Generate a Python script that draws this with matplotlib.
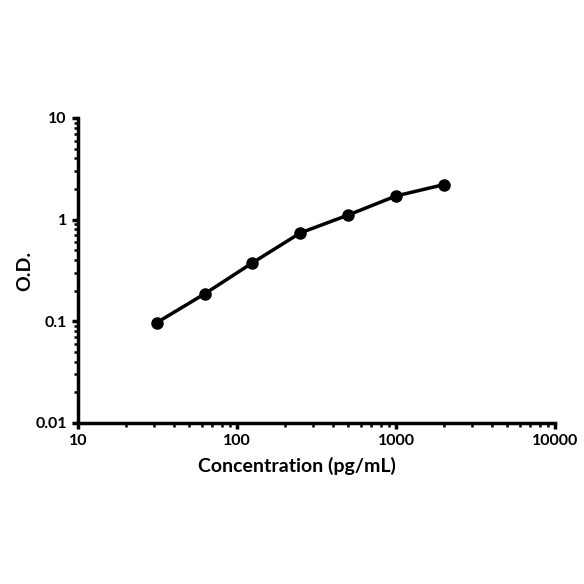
import numpy as np
import matplotlib
matplotlib.use('Agg')
import matplotlib.pyplot as plt
from matplotlib.ticker import LogLocator, FixedLocator, FixedFormatter, NullFormatter

# standard curve values
conc = [31.25, 62.5, 125, 250, 500, 1000, 2000]
od = [0.097, 0.186, 0.376, 0.74, 1.11, 1.71, 2.21]

x_ticks = [10, 100, 1000, 10000]
x_labels = ['10', '100', '1000', '10000']
y_ticks = [0.01, 0.1, 1, 10]
y_labels = ['0.01', '0.1', '1', '10']

plt.rcParams['font.family'] = ['Lato', 'DejaVu Sans']

fig = plt.figure(figsize=(5.84, 5.84), dpi=100)
ax = fig.add_axes([0.1336, 0.2757, 0.8167, 0.5223])

ax.plot(conc, od, '-', color='black', linewidth=2.5)
ax.plot(conc, od, 'o', color='black', markersize=8)

ax.set_xscale('log')
ax.set_yscale('log')
ax.set_xlim(10, 10000)
ax.set_ylim(0.01, 10)

ax.xaxis.set_major_locator(FixedLocator(x_ticks))
ax.xaxis.set_major_formatter(FixedFormatter(x_labels))
ax.yaxis.set_major_locator(FixedLocator(y_ticks))
ax.yaxis.set_major_formatter(FixedFormatter(y_labels))
ax.xaxis.set_minor_locator(LogLocator(base=10, subs=np.arange(2, 10)))
ax.yaxis.set_minor_locator(LogLocator(base=10, subs=np.arange(2, 10)))
ax.xaxis.set_minor_formatter(NullFormatter())
ax.yaxis.set_minor_formatter(NullFormatter())

for side in ['top', 'right']:
    ax.spines[side].set_visible(False)
for side in ['left', 'bottom']:
    ax.spines[side].set_linewidth(2.5)

ax.tick_params(which='major', direction='out', length=4, width=2.5,
               labelsize=11.5, pad=4)
ax.tick_params(which='minor', direction='out', length=3, width=1.8)
for lbl in ax.get_xticklabels() + ax.get_yticklabels():
    lbl.set_fontweight('bold')

ax.set_xlabel('Concentration (pg/mL)', fontsize=14, fontweight='bold')
ax.set_ylabel('O.D.', fontsize=14, fontweight='bold')
ax.xaxis.set_label_coords(0.46, -0.112)
ax.yaxis.set_label_coords(-0.094, 0.5)

fig.savefig('out.png', dpi=100)
